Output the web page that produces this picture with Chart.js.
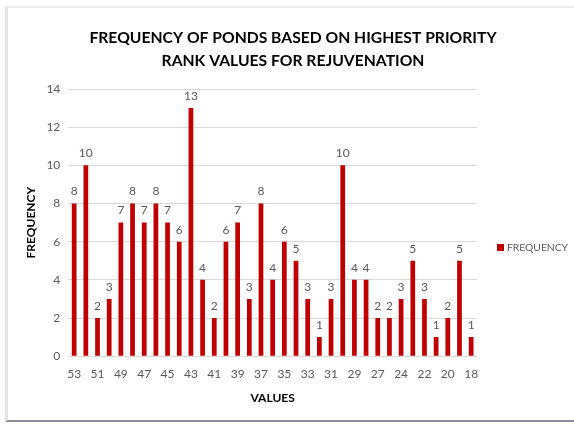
<!DOCTYPE html>
<html>
<head>
<meta charset="utf-8">
<script src="https://cdn.jsdelivr.net/npm/chart.js@4.4.1/dist/chart.umd.min.js"></script>
<style>
  html, body { margin: 0; padding: 0; background: #fff; }
  #wrap {
    position: absolute; left: 0; top: 0; width: 574px; height: 425px;
  }
  #frame {
    position: absolute; left: 5px; top: 6px; width: 569px; height: 416px;
    border-left: 3px solid #e4e4e8; border-top: 2px solid #ececec;
    border-bottom: 2px solid #8a8f99; box-sizing: border-box;
  }
  canvas { position: absolute; left: 0; top: 0; }
</style>
</head>
<body>
<div id="wrap">
  <div id="frame"></div>
  <canvas id="chart" width="574" height="425"></canvas>
</div>
<script>
const values = [53, 52, 51, 50, 49, 48, 47, 46, 45, 44, 43, 42, 41, 40, 39, 38, 37, 36,
  35, 34, 33, 32, 31, 30, 29, 28, 27, 25, 24, 23, 22, 21, 20, 19, 18];
const frequency = [8, 10, 2, 3, 7, 8, 7, 8, 7, 6, 13, 4, 2, 6, 7, 3, 8, 4,
  6, 5, 3, 1, 3, 10, 4, 4, 2, 2, 3, 5, 3, 1, 2, 5, 1];
const yTicks = [0, 2, 4, 6, 8, 10, 12, 14];
const titleLines = ['FREQUENCY OF PONDS BASED ON HIGHEST PRIORITY', 'RANK VALUES FOR REJUVENATION'];

const FONT = 'Lato, "Open Sans", sans-serif';
const RED = '#c00000';
const GREY = '#595959';

// title, values above bars, legend on the right
const extras = {
  id: 'extras',
  afterDatasetsDraw(c) {
    const ctx = c.ctx;
    const meta = c.getDatasetMeta(0);
    ctx.save();
    ctx.font = '12px ' + FONT;
    ctx.fillStyle = GREY;
    ctx.textAlign = 'center';
    ctx.textBaseline = 'bottom';
    meta.data.forEach((bar, i) => {
      ctx.fillText(frequency[i], bar.x, bar.y - 6);
    });

    // legend
    const ds = c.data.datasets[0];
    const lx = c.chartArea.right + 20;
    const ly = 248;
    ctx.fillStyle = ds.backgroundColor;
    ctx.fillRect(lx, ly - 4, 7, 7);
    ctx.fillStyle = GREY;
    ctx.font = '10.3px ' + FONT;
    ctx.textAlign = 'left';
    ctx.textBaseline = 'middle';
    ctx.fillText(ds.label, lx + 10, ly);

    // title
    ctx.fillStyle = '#000';
    ctx.font = 'bold 15.7px ' + FONT;
    ctx.textAlign = 'center';
    titleLines.forEach((t, i) => ctx.fillText(t, 293, 38 + i * 23));
    ctx.restore();
  }
};

new Chart(document.getElementById('chart'), {
  type: 'bar',
  data: {
    labels: values,
    datasets: [{
      label: 'FREQUENCY',
      data: frequency,
      backgroundColor: RED,
      barPercentage: 0.9,
      categoryPercentage: 0.45
    }]
  },
  options: {
    responsive: false,
    animation: false,
    layout: { padding: { left: 22, right: 97, top: 89, bottom: 16 } },
    plugins: {
      title: { display: false },
      legend: { display: false },
      tooltip: { enabled: false }
    },
    scales: {
      x: {
        grid: { display: false },
        border: { display: false },
        ticks: {
          color: GREY, font: { family: FONT, size: 12 },
          autoSkip: false, maxRotation: 0,
          callback: (v, i) => i % 2 === 0 ? values[i] : ''
        },
        title: {
          display: true, text: 'VALUES', color: '#000',
          font: { family: FONT, size: 12, weight: 'bold' },
          padding: { top: 6, bottom: 4 }
        }
      },
      y: {
        min: 0, max: 14,
        afterBuildTicks: s => { s.ticks = yTicks.map(v => ({ value: v })); },
        grid: { color: '#d9d9d9', drawTicks: false },
        border: { display: false },
        ticks: { color: GREY, font: { family: FONT, size: 12 }, padding: 8 },
        title: {
          display: true, text: 'FREQUENCY', color: '#000',
          font: { family: FONT, size: 12, weight: 'bold' },
          padding: { top: 2, bottom: 0 }
        }
      }
    }
  },
  plugins: [extras]
});
</script>
</body>
</html>
